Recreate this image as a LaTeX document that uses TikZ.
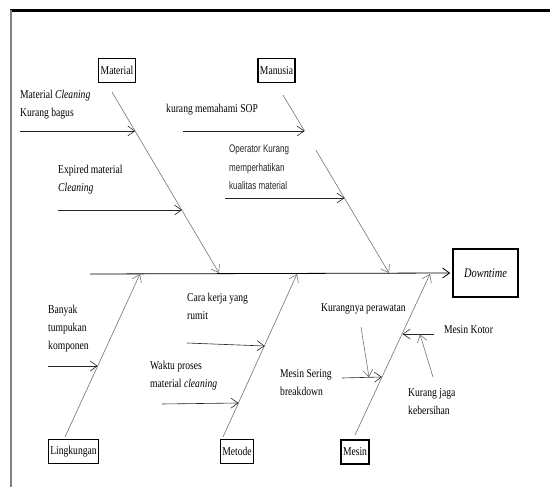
\documentclass[tikz,border=0pt]{standalone}
\usepackage{fontspec}
\setmainfont{Liberation Serif}[FakeStretch=0.8]
\newfontfamily\narrowsans{Liberation Sans}[FakeStretch=0.73]
\usetikzlibrary{arrows.meta}

\begin{document}
\begin{tikzpicture}[
  x=1pt, y=-1pt,
  font=\fontsize{12}{18}\selectfont,
  category/.style={draw=black, line width=1.4pt, minimum height=24pt,
    inner xsep=2pt, inner ysep=0pt},
  effect/.style={draw=black, line width=1.6pt, minimum width=65pt,
    minimum height=48pt, font=\fontsize{13}{15}\selectfont\itshape},
  cause/.style={anchor=north west, align=left, inner sep=0pt},
  bone/.style={draw=black!55, semithick, -{Straight Barb[length=7pt,width=10pt]}},
  arrow/.style={draw=black!85, semithick, -{Straight Barb[length=7pt,width=10pt]}},
  spine/.style={draw=black, thick, -{Straight Barb[length=7pt,width=10pt]}}
]
  \useasboundingbox (0,0) rectangle (550,487);
  \draw[line width=3pt] (10,11) -- (550,11);
  \draw[black!50, line width=2pt] (11,10) -- (11,487);

  \node[category] (material) at (117,70.5) {Material};
  \node[category] (manusia) at (276.5,70.5) {Manusia};
  \node[category] (lingkungan) at (73.5,451.5) {Lingkungan};
  \node[category] (metode) at (237,451.5) {Metode};
  \node[category] (mesin) at (355,452) {Mesin};
  \node[effect] (downtime) at (485.5,273) {Downtime};

  \coordinate (tail) at (90,274);
  \draw[spine] (tail) -- (downtime.west) [shorten >=2pt];

  \coordinate (mat0) at (112,92);
  \coordinate (mat1) at (219,273);
  \coordinate (man0) at (283,95);
  \coordinate (man1) at (304.5,131);
  \coordinate (man2) at (315.8,150);
  \coordinate (man3) at (389,273);
  \coordinate (lin0) at (65,437);
  \coordinate (lin1) at (140,274);
  \coordinate (met0) at (223,437);
  \coordinate (met1) at (297,274);
  \coordinate (mes0) at (355,435);
  \coordinate (mes1) at (430,274);

  \draw[bone] (mat0) -- (mat1);
  \draw[draw=black!55, semithick] (man0) -- (man1);
  \draw[bone] (man2) -- (man3);
  \draw[bone] (lin0) -- (lin1);
  \draw[bone] (met0) -- (met1);
  \draw[bone] (mes0) -- (mes1);

  \node[cause] (matA) at (20,90) {Material \textit{Cleaning}\\Kurang bagus};
  \node[cause] (matB) at (58,165) {Expired material\\\textit{Cleaning}};
  \node[cause] (manA) at (166,104) {kurang memahami SOP};
  \node[cause, font=\narrowsans\fontsize{11}{18.5}\selectfont, text=black!85] (manB) at (229,145)
    {Operator Kurang\\memperhatikan\\kualitas material};
  \node[cause] (linA) at (48,305) {Banyak\\tumpukan\\komponen};
  \node[cause] (metA) at (187,293) {Cara kerja yang\\rumit};
  \node[cause] (metB) at (150,361) {Waktu proses\\material \textit{cleaning}};
  \node[cause] (mesA) at (280,369) {Mesin Sering\\breakdown};
  \node[cause] (mesB) at (321,303) {Kurangnya perawatan};
  \node[cause] (mesC) at (444,325) {Mesin Kotor};
  \node[cause] (mesD) at (408,388) {Kurang jaga\\kebersihan};

  \coordinate (matA0) at (20,131);
  \coordinate (matA1) at (135.2,131);
  \coordinate (matB0) at (58,210);
  \coordinate (matB1) at (182,210);
  \coordinate (manA0) at (183,131);
  \coordinate (manB0) at (225,198);
  \coordinate (manB1) at (344.4,198);
  \coordinate (linA0) at (48,366);
  \coordinate (linA1) at (97.7,366);
  \coordinate (metA0) at (187,343);
  \coordinate (metA1) at (264.6,346);
  \coordinate (metB0) at (162,404);
  \coordinate (metB1) at (238.5,403);
  \coordinate (mesA0) at (342,378);
  \coordinate (mesA1) at (381.9,377);
  \coordinate (mesB0) at (361,327);
  \coordinate (mesB1) at (369,377.3);
  \coordinate (mesC0) at (434,334);
  \coordinate (mesC1) at (402.6,334);
  \coordinate (mesD0) at (433,377);
  \coordinate (mesD1) at (420,334.5);

  \draw[arrow] (matA0) -- (matA1);
  \draw[arrow] (matB0) -- (matB1);
  \draw[arrow] (manA0) -- (man1);
  \draw[arrow] (manB0) -- (manB1);
  \draw[arrow] (linA0) -- (linA1);
  \draw[arrow] (metA0) -- (metA1);
  \draw[arrow] (metB0) -- (metB1);
  \draw[arrow] (mesA0) -- (mesA1);
  \draw[bone] (mesB0) -- (mesB1);
  \draw[arrow] (mesC0) -- (mesC1);
  \draw[bone] (mesD0) -- (mesD1);
\end{tikzpicture}
\end{document}
